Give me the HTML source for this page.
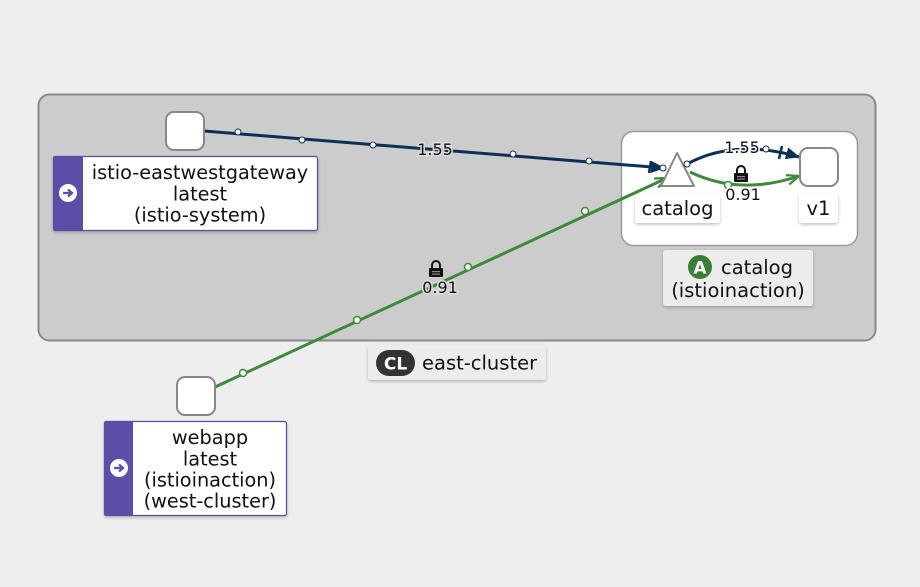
<!DOCTYPE html>
<html><head><meta charset="utf-8"><style>
html,body{margin:0;padding:0;background:#eeeeee;}
svg{display:block;font-family:"DejaVu Sans","Liberation Sans",sans-serif;}
</style></head><body>
<svg width="920" height="587" viewBox="0 0 920 587" xmlns="http://www.w3.org/2000/svg">
<defs>
<marker id="an" markerWidth="14" markerHeight="12" refX="13" refY="6" orient="auto" markerUnits="userSpaceOnUse"><path d="M0,0 L14,6 L0,12 Z" fill="#0b2f56"/></marker>
<marker id="ag" markerWidth="14" markerHeight="12" refX="13" refY="6" orient="auto" markerUnits="userSpaceOnUse"><path d="M1,1 L13,6 L1,11" fill="none" stroke="#3c8a3a" stroke-width="2.2"/></marker>
<filter id="sh" x="-10%" y="-20%" width="120%" height="150%"><feDropShadow dx="0" dy="1.5" stdDeviation="1.5" flood-color="#000" flood-opacity="0.25"/></filter>
</defs>
<rect x="0" y="0" width="920" height="587" fill="#eeeeee"/>
<rect x="38.5" y="94.5" width="837" height="246" rx="11" fill="#cccccc" stroke="#8a8a8a" stroke-width="2"/>
<rect x="368" y="345" width="178" height="35" rx="3" fill="#ececec" filter="url(#sh)"/>
<rect x="376" y="350" width="39" height="26" rx="13" fill="#333"/>
<text x="395.5" y="369.5" font-size="17" font-weight="bold" fill="#fff" text-anchor="middle">CL</text>
<text x="422" y="369.5" font-size="19.5" fill="#111">east-cluster</text>
<rect x="621.5" y="131.5" width="236" height="114" rx="12" fill="#fff" stroke="#999" stroke-width="1.5"/>
<rect x="663" y="250" width="150" height="56" rx="3" fill="#ececec" filter="url(#sh)"/>
<circle cx="700" cy="267" r="12" fill="#3a7f36"/>
<text x="700" y="273.5" font-size="17" font-weight="bold" fill="#fff" text-anchor="middle">A</text>
<text x="721" y="274" font-size="19.5" fill="#111">catalog</text>
<text x="738" y="297" font-size="19.5" fill="#111" text-anchor="middle">(istioinaction)</text>
<line x1="204" y1="131" x2="664" y2="168" stroke="#0b2f56" stroke-width="3" marker-end="url(#an)"/>
<line x1="651" y1="161" x2="649" y2="173" stroke="#0b2f56" stroke-width="2.5"/>
<g fill="#fff" stroke="#0b2f56" stroke-width="1"><circle cx="238" cy="132" r="3"/><circle cx="302" cy="140" r="3"/><circle cx="373" cy="145" r="3"/><circle cx="513" cy="154" r="3"/><circle cx="589" cy="161" r="3"/></g>
<text x="435" y="155" font-size="16" fill="#111" text-anchor="middle" stroke="#ddd" stroke-width="3" paint-order="stroke">1.55</text>
<line x1="215" y1="387" x2="667" y2="178" stroke="#3c8a3a" stroke-width="3" marker-end="url(#ag)"/>
<g fill="#fff" stroke="#3c8a3a" stroke-width="1.5"><circle cx="243" cy="373" r="3.5"/><circle cx="357" cy="320" r="3.5"/><circle cx="468" cy="267" r="3.5"/><circle cx="585" cy="211" r="3.5"/></g>
<g transform="translate(429,262)"><path d="M3,6 V3 a4,4 0 0 1 8,0 V6" fill="none" stroke="#111" stroke-width="2"/><rect x="0" y="6" width="14" height="9" rx="1" fill="#111"/><rect x="3" y="9" width="8" height="1.2" fill="#888"/><rect x="3" y="11.5" width="8" height="1.2" fill="#888"/></g>
<text x="440" y="293" font-size="16" fill="#111" text-anchor="middle" stroke="#ddd" stroke-width="3" paint-order="stroke">0.91</text>
<path d="M687,164 Q735,138 799,157" fill="none" stroke="#0b2f56" stroke-width="3" marker-end="url(#an)"/>
<line x1="782" y1="146" x2="779" y2="159" stroke="#0b2f56" stroke-width="2.5"/>
<circle cx="766" cy="149" r="3" fill="#fff" stroke="#0b2f56"/>
<text x="742" y="153" font-size="16" fill="#111" text-anchor="middle" stroke="#fff" stroke-width="3" paint-order="stroke">1.55</text>
<path d="M690,172 Q740,196 799,176" fill="none" stroke="#3c8a3a" stroke-width="3" marker-end="url(#ag)"/>
<circle cx="728" cy="185" r="3.5" fill="#fff" stroke="#3c8a3a" stroke-width="1.5"/>
<g transform="translate(734,167)"><path d="M3,6 V3 a4,4 0 0 1 8,0 V6" fill="none" stroke="#111" stroke-width="2"/><rect x="0" y="6" width="14" height="9" rx="1" fill="#111"/><rect x="3" y="9" width="8" height="1.2" fill="#888"/><rect x="3" y="11.5" width="8" height="1.2" fill="#888"/></g>
<text x="743" y="200" font-size="16" fill="#111" text-anchor="middle" stroke="#fff" stroke-width="3" paint-order="stroke">0.91</text>
<path d="M677,153 L694,186 L661,186 Z" fill="#fff" stroke="#888" stroke-width="2" stroke-linejoin="round"/>
<circle cx="663" cy="168" r="3" fill="#fff" stroke="#0b2f56"/>
<circle cx="687" cy="164" r="3" fill="#fff" stroke="#0b2f56"/>
<rect x="635" y="194" width="85" height="29" rx="3" fill="#fff" filter="url(#sh)"/>
<text x="677.5" y="215" font-size="19.5" fill="#111" text-anchor="middle">catalog</text>
<rect x="800" y="148" width="38" height="38" rx="8" fill="#fff" stroke="#888" stroke-width="2"/>
<rect x="799" y="194" width="39" height="29" rx="3" fill="#fff" filter="url(#sh)"/>
<text x="818.5" y="215" font-size="19.5" fill="#111" text-anchor="middle">v1</text>
<rect x="166" y="112" width="38" height="38" rx="8" fill="#fff" stroke="#888" stroke-width="2"/>
<rect x="53.5" y="156.5" width="264" height="74" rx="2" fill="#fff" stroke="#5b4ea8" stroke-width="1.2" filter="url(#sh)"/>
<rect x="53" y="156" width="30" height="75" rx="2" fill="#5b4ea8"/>
<circle cx="68" cy="193" r="9" fill="#fff"/><path d="M63,193 H71 M68,189.5 L72,193 L68,196.5" fill="none" stroke="#5b4ea8" stroke-width="2.2"/>
<g font-size="19.3" fill="#111" text-anchor="middle"><text x="200" y="179">istio-eastwestgateway</text><text x="200" y="200.5">latest</text><text x="200" y="221.5">(istio-system)</text></g>
<rect x="177" y="377" width="38" height="38" rx="8" fill="#fff" stroke="#888" stroke-width="2"/>
<rect x="104.5" y="421.5" width="182" height="94" rx="2" fill="#fff" stroke="#5b4ea8" stroke-width="1.2" filter="url(#sh)"/>
<rect x="104" y="421" width="29" height="95" rx="2" fill="#5b4ea8"/>
<circle cx="119" cy="468" r="9" fill="#fff"/><path d="M114,468 H122 M119,464.5 L123,468 L119,471.5" fill="none" stroke="#5b4ea8" stroke-width="2.2"/>
<g font-size="19.3" fill="#111" text-anchor="middle"><text x="210" y="444">webapp</text><text x="210" y="465.5">latest</text><text x="210" y="486.5">(istioinaction)</text><text x="210" y="507.5">(west-cluster)</text></g>
</svg>
</body></html>
